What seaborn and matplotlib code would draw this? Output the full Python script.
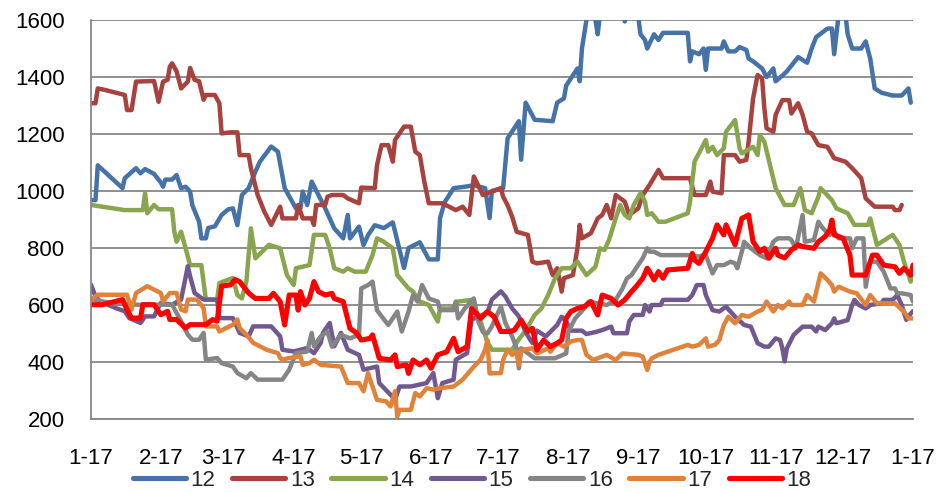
import matplotlib
matplotlib.use("Agg")
import matplotlib.pyplot as plt
import matplotlib.dates as mdates
import numpy as np
import pandas as pd
import seaborn as sns

# Seasonal price curves: day offset from 17 January, value per series
d12 = [0, 2, 3, 14, 15, 20, 22, 24, 28, 31, 32, 33, 36, 38, 40, 42, 44, 45, 48, 49, 51, 52, 55, 58, 61, 63,
       65, 67, 70, 73, 75, 80, 83, 86, 91, 93, 94, 96, 98, 104, 108, 112, 114, 115, 119, 121, 123, 126, 130,
       134, 139, 141, 146, 150, 154, 155, 157, 161, 166, 170, 175, 177, 178, 183, 185, 190, 191, 193, 197,
       205, 207, 210, 211, 216, 217, 218, 220, 222, 224, 225, 226, 230, 236, 237, 239, 243, 244, 246, 247,
       250, 252, 254, 265, 266, 267, 270, 272, 273, 274, 280, 281, 283, 286, 288, 291, 292, 294, 298, 300,
       303, 304, 307, 309, 311, 314, 318, 320, 322, 327, 329, 330, 332, 335, 336, 338, 342, 344, 346, 348,
       351, 356, 360, 363, 364]
v12 = [968, 968, 1090, 1010, 1045, 1080, 1062, 1077, 1060, 1030, 1015, 1040, 1040, 1056, 1010, 1015, 998,
       950, 892, 834, 834, 870, 876, 916, 936, 939, 880, 986, 1010, 1068, 1103, 1156, 1138, 1010, 939, 939,
       998, 951, 1033, 939, 869, 834, 916, 834, 875, 810, 845, 880, 870, 890, 730, 800, 820, 760, 760, 905,
       960, 1010, 1015, 1020, 1010, 905, 1000, 1010, 1185, 1245, 1110, 1310, 1250, 1245, 1310, 1325, 1370,
       1430, 1385, 1500, 1600, 1650, 1600, 1550, 1620, 1680, 1650, 1595, 1650, 1610, 1550, 1530, 1500, 1550,
       1530, 1555, 1555, 1455, 1490, 1480, 1500, 1425, 1500, 1500, 1525, 1490, 1490, 1505, 1495, 1465, 1455,
       1430, 1400, 1430, 1385, 1405, 1420, 1440, 1470, 1450, 1500, 1540, 1570, 1570, 1480, 1620, 1620, 1550,
       1500, 1500, 1525, 1465, 1360, 1345, 1335, 1335, 1360, 1310]

d13 = [0, 2, 3, 6, 15, 16, 18, 20, 28, 30, 32, 34, 35, 36, 38, 40, 43, 44, 46, 48, 50, 51, 55, 57, 58, 62,
       65, 66, 70, 71, 74, 77, 80, 84, 85, 91, 92, 94, 98, 99, 100, 104, 105, 107, 112, 114, 119, 120, 126,
       127, 129, 132, 134, 135, 138, 139, 142, 144, 146, 148, 150, 156, 162, 165, 168, 170, 174, 182, 183,
       185, 187, 189, 194, 196, 198, 203, 205, 207, 209, 210, 214, 216, 217, 218, 222, 225, 227, 229, 231,
       233, 237, 239, 243, 245, 248, 252, 254, 266, 268, 273, 275, 276, 280, 281, 286, 288, 291, 292, 294,
       296, 298, 299, 300, 303, 304, 307, 310, 311, 314, 316, 318, 320, 323, 327, 330, 335, 338, 342, 344,
       348, 356, 357, 359, 360]
v13 = [1308, 1308, 1360, 1355, 1337, 1284, 1284, 1384, 1386, 1313, 1384, 1390, 1436, 1448, 1420, 1360,
       1384, 1432, 1390, 1385, 1320, 1337, 1337, 1308, 1202, 1206, 1206, 1126, 1126, 1080, 986, 927, 881,
       945, 904, 904, 951, 904, 904, 881, 951, 951, 980, 986, 986, 974, 957, 1012, 1010, 1091, 1161, 1161,
       1103, 1179, 1214, 1226, 1226, 1138, 1126, 1033, 957, 957, 933, 945, 916, 1051, 986, 1010, 980, 950,
       910, 857, 846, 752, 746, 752, 705, 729, 647, 694, 705, 799, 881, 834, 852, 904, 916, 951, 904, 986,
       963, 916, 939, 986, 1021, 1074, 1045, 1045, 986, 986, 1033, 998, 992, 1126, 1126, 1103, 1109, 1173,
       1325, 1407, 1395, 1290, 1220, 1208, 1267, 1319, 1319, 1272, 1308, 1267, 1208, 1202, 1161, 1155, 1115,
       1103, 1080, 1045, 974, 945, 945, 933, 933, 951]

d14 = [0, 15, 23, 24, 25, 28, 30, 36, 37, 38, 40, 42, 44, 49, 51, 56, 57, 63, 65, 67, 69, 71, 73, 79, 84,
       87, 90, 91, 97, 99, 104, 106, 108, 112, 114, 117, 122, 125, 127, 130, 134, 136, 141, 143, 146, 150,
       154, 155, 160, 163, 169, 173, 176, 178, 187, 190, 193, 197, 200, 203, 206, 209, 213, 216, 220, 224,
       226, 228, 230, 233, 235, 237, 239, 241, 244, 246, 247, 249, 252, 255, 265, 266, 268, 273, 274, 276,
       278, 281, 282, 286, 288, 289, 294, 296, 297, 299, 304, 308, 312, 315, 317, 320, 323, 324, 329, 331,
       336, 339, 345, 346, 349, 356, 359, 361, 364, 365]
v14 = [951, 933, 933, 992, 922, 951, 936, 936, 857, 822, 857, 799, 740, 740, 619, 619, 677, 695, 635, 623,
       682, 869, 764, 811, 799, 705, 670, 729, 740, 846, 846, 799, 729, 717, 729, 717, 717, 775, 834, 822,
       799, 705, 658, 647, 612, 600, 542, 588, 588, 612, 618, 542, 470, 443, 443, 480, 510, 565, 588, 635,
       693, 729, 729, 752, 705, 734, 799, 793, 828, 904, 951, 916, 904, 951, 992, 963, 916, 922, 892, 892,
       922, 963, 1103, 1179, 1138, 1155, 1126, 1150, 1208, 1249, 1150, 1132, 1155, 1126, 1196, 1173, 1010,
       951, 951, 1010, 933, 922, 980, 1010, 968, 939, 922, 881, 881, 904, 811, 846, 811, 752, 682, 705]

d15 = [0, 2, 4, 11, 15, 17, 22, 24, 28, 31, 36, 40, 43, 44, 46, 50, 56, 57, 63, 66, 70, 72, 80, 84, 85, 90,
       96, 99, 102, 103, 106, 108, 111, 114, 119, 121, 127, 128, 133, 135, 137, 142, 149, 152, 154, 156, 161,
       162, 167, 169, 176, 178, 182, 184, 187, 190, 193, 195, 196, 198, 202, 207, 209, 211, 213, 218, 220,
       224, 227, 231, 232, 238, 239, 241, 245, 246, 247, 248, 249, 253, 254, 265, 267, 269, 272, 273, 276,
       279, 282, 286, 290, 293, 296, 299, 301, 304, 306, 307, 308, 309, 312, 316, 320, 322, 323, 326, 329,
       330, 331, 336, 338, 339, 341, 344, 346, 351, 352, 356, 358, 360, 362, 364, 365]
v15 = [671, 630, 613, 589, 578, 554, 537, 560, 560, 607, 601, 619, 736, 701, 642, 619, 619, 554, 554, 502,
       490, 525, 525, 490, 443, 437, 449, 431, 467, 502, 537, 455, 502, 443, 425, 373, 384, 326, 285, 267,
       314, 314, 326, 361, 273, 326, 338, 408, 431, 549, 572, 619, 648, 630, 588, 560, 505, 478, 467, 510,
       490, 530, 559, 543, 510, 510, 498, 505, 512, 524, 501, 501, 542, 565, 565, 600, 588, 577, 600, 600,
       618, 618, 635, 670, 670, 635, 582, 577, 594, 559, 530, 524, 466, 454, 454, 483, 477, 448, 402, 448,
       495, 524, 524, 507, 524, 512, 536, 553, 536, 547, 600, 618, 600, 588, 600, 606, 618, 618, 635, 600,
       548, 570, 578]

d16 = [0, 10, 20, 36, 40, 43, 45, 48, 50, 51, 56, 58, 63, 65, 69, 71, 74, 85, 88, 91, 96, 98, 99, 102, 105,
       107, 111, 115, 119, 120, 123, 125, 127, 128, 132, 136, 138, 141, 143, 145, 147, 150, 154, 155, 161,
       162, 163, 166, 170, 172, 174, 176, 178, 182, 184, 187, 189, 190, 191, 197, 206, 211, 212, 215, 219,
       221, 225, 229, 233, 236, 238, 240, 242, 245, 247, 248, 250, 253, 265, 269, 273, 276, 278, 281, 284,
       286, 287, 289, 290, 293, 297, 300, 303, 305, 310, 311, 313, 316, 317, 321, 323, 325, 328, 329, 332,
       337, 338, 340, 343, 344, 346, 349, 352, 355, 357, 358, 360, 364, 365]
v16 = [620, 605, 601, 601, 543, 496, 478, 478, 502, 408, 414, 396, 384, 361, 343, 361, 338, 338, 373, 431,
       437, 502, 455, 490, 507, 454, 495, 483, 495, 658, 670, 682, 582, 571, 530, 577, 507, 577, 635, 612,
       670, 623, 612, 582, 582, 612, 553, 588, 623, 542, 505, 500, 525, 595, 537, 490, 448, 378, 448, 413,
       413, 430, 507, 553, 588, 612, 606, 600, 618, 658, 694, 705, 729, 764, 799, 787, 787, 775, 775, 770,
       775, 711, 740, 740, 752, 746, 729, 787, 822, 799, 775, 764, 822, 834, 834, 828, 799, 916, 822, 828,
       892, 869, 846, 869, 834, 834, 799, 834, 834, 664, 752, 752, 717, 658, 658, 641, 641, 635, 612]

d17 = [0, 3, 16, 18, 20, 25, 28, 31, 32, 35, 38, 40, 42, 43, 47, 50, 51, 56, 57, 63, 65, 66, 69, 72, 78, 83,
       84, 85, 88, 93, 94, 97, 99, 102, 111, 114, 119, 121, 123, 125, 127, 131, 133, 135, 136, 137, 142, 144,
       146, 149, 152, 155, 161, 165, 170, 173, 175, 176, 177, 182, 183, 185, 187, 189, 190, 191, 196, 198,
       203, 204, 207, 210, 213, 216, 218, 220, 223, 225, 229, 233, 236, 243, 245, 247, 248, 249, 252, 256,
       265, 267, 270, 273, 274, 277, 279, 281, 283, 286, 289, 292, 296, 298, 300, 303, 305, 307, 310, 311,
       316, 318, 321, 324, 327, 329, 330, 332, 337, 340, 344, 346, 349, 357, 360, 361, 363, 365]
v17 = [619, 636, 636, 584, 642, 666, 654, 642, 613, 642, 642, 584, 578, 619, 619, 589, 525, 525, 507, 531,
       549, 519, 496, 467, 443, 431, 414, 408, 414, 420, 390, 396, 408, 390, 384, 326, 326, 297, 361, 314,
       267, 262, 244, 297, 209, 232, 232, 291, 279, 308, 303, 308, 314, 338, 384, 408, 443, 477, 360, 361,
       408, 443, 425, 436, 390, 442, 448, 430, 448, 436, 466, 454, 472, 477, 477, 425, 407, 413, 425, 407,
       430, 425, 419, 372, 400, 413, 425, 436, 460, 454, 460, 483, 454, 460, 477, 530, 559, 536, 565, 559,
       577, 583, 612, 577, 600, 588, 612, 600, 600, 635, 612, 711, 688, 670, 647, 664, 647, 641, 600, 635,
       606, 606, 583, 577, 553, 553]

d18 = [0, 5, 14, 16, 18, 22, 23, 28, 31, 34, 35, 38, 42, 44, 51, 54, 56, 58, 62, 64, 66, 70, 73, 79, 81, 84,
       86, 88, 91, 92, 93, 95, 97, 99, 101, 104, 107, 108, 112, 115, 118, 120, 124, 125, 128, 133, 135, 136,
       140, 141, 143, 146, 149, 151, 154, 158, 161, 163, 167, 169, 173, 176, 179, 182, 186, 188, 191, 194,
       196, 198, 201, 204, 207, 209, 211, 213, 216, 219, 222, 225, 227, 231, 234, 237, 240, 242, 245, 247,
       248, 250, 252, 254, 256, 265, 267, 268, 270, 273, 276, 278, 281, 282, 286, 289, 292, 294, 297, 299,
       301, 304, 305, 308, 311, 314, 316, 321, 323, 326, 328, 329, 330, 334, 337, 338, 344, 347, 349, 352,
       357, 359, 361, 364, 365]
v18 = [601, 601, 619, 584, 554, 554, 601, 601, 566, 578, 549, 549, 519, 531, 531, 549, 543, 666, 671, 689,
       682, 642, 623, 623, 641, 612, 530, 635, 635, 582, 647, 600, 623, 682, 647, 635, 641, 623, 612, 518,
       501, 477, 483, 495, 413, 407, 425, 384, 390, 360, 407, 390, 407, 378, 425, 436, 483, 436, 454, 588,
       553, 577, 559, 507, 507, 512, 547, 507, 518, 442, 477, 454, 466, 477, 553, 577, 588, 594, 612, 565,
       635, 623, 600, 618, 647, 664, 694, 729, 717, 688, 717, 694, 723, 729, 781, 758, 746, 787, 834, 881,
       846, 881, 811, 904, 916, 822, 787, 799, 764, 799, 775, 765, 793, 811, 805, 799, 822, 840, 863, 898,
       846, 834, 775, 705, 705, 775, 775, 740, 734, 711, 729, 705, 740]

labels = ["12", "13", "14", "15", "16", "17", "18"]
colors = ["#4572A7", "#A8423F", "#89A54E", "#71588F", "#858585", "#E0823A", "#FF0000"]

start = pd.Timestamp("2017-01-17")
end = pd.Timestamp("2018-01-17")

series = [(d12, v12), (d13, v13), (d14, v14), (d15, v15), (d16, v16), (d17, v17), (d18, v18)]
frames = []
for lab, (d, v) in zip(labels, series):
    frames.append(pd.DataFrame({
        "date": start + pd.to_timedelta(np.asarray(d, dtype=float), unit="D"),
        "value": v,
        "series": lab,
    }))
df = pd.concat(frames, ignore_index=True)

sns.set_style("white")
plt.rcParams["font.family"] = ["Liberation Sans", "DejaVu Sans"]

fig, ax = plt.subplots(figsize=(9.46, 4.92), dpi=100)
fig.subplots_adjust(left=0.0962, right=0.9651, top=0.9593, bottom=0.1484)

sns.lineplot(data=df, x="date", y="value", hue="series", hue_order=labels,
             palette=dict(zip(labels, colors)), estimator=None, sort=False,
             linewidth=3.2, ax=ax, legend=True)
for ln in ax.lines[:len(labels)]:
    ln.set_solid_joinstyle("round")
    ln.set_solid_capstyle("round")
ax.lines[len(labels) - 1].set_linewidth(3.7)

grid_c = "#878787"
ax.set_ylim(200, 1600)
ax.set_yticks(np.arange(200, 1601, 200))
ax.set_xlim(start, end)
ax.xaxis.set_major_locator(mdates.MonthLocator(bymonthday=17))
ax.xaxis.set_major_formatter(mdates.DateFormatter("%-m-%d"))
ax.yaxis.grid(True, color=grid_c, linewidth=1.3)
ax.xaxis.grid(False)
ax.set_axisbelow(True)
for side in ("top", "right"):
    ax.spines[side].set_visible(False)
for side in ("left", "bottom"):
    ax.spines[side].set_color(grid_c)
    ax.spines[side].set_linewidth(1.3)
ax.tick_params(axis="both", length=7, width=1.3, color=grid_c, labelsize=16, labelcolor="black")
ax.tick_params(axis="y", pad=12)
ax.tick_params(axis="x", pad=14)
ax.set_xlabel("")
ax.set_ylabel("")

handles, labs = ax.get_legend_handles_labels()
ax.get_legend().remove()
leg = fig.legend(handles, labs, loc="center", bbox_to_anchor=(0.499, 1 - 480 / 492), ncol=7,
                 frameon=False, fontsize=16, handlelength=2.4, handletextpad=0.2,
                 columnspacing=0.75, borderaxespad=0)
for h in leg.get_lines():
    h.set_linewidth(3.7)
    h.set_solid_capstyle("round")

fig.savefig("out.png", dpi=100)
